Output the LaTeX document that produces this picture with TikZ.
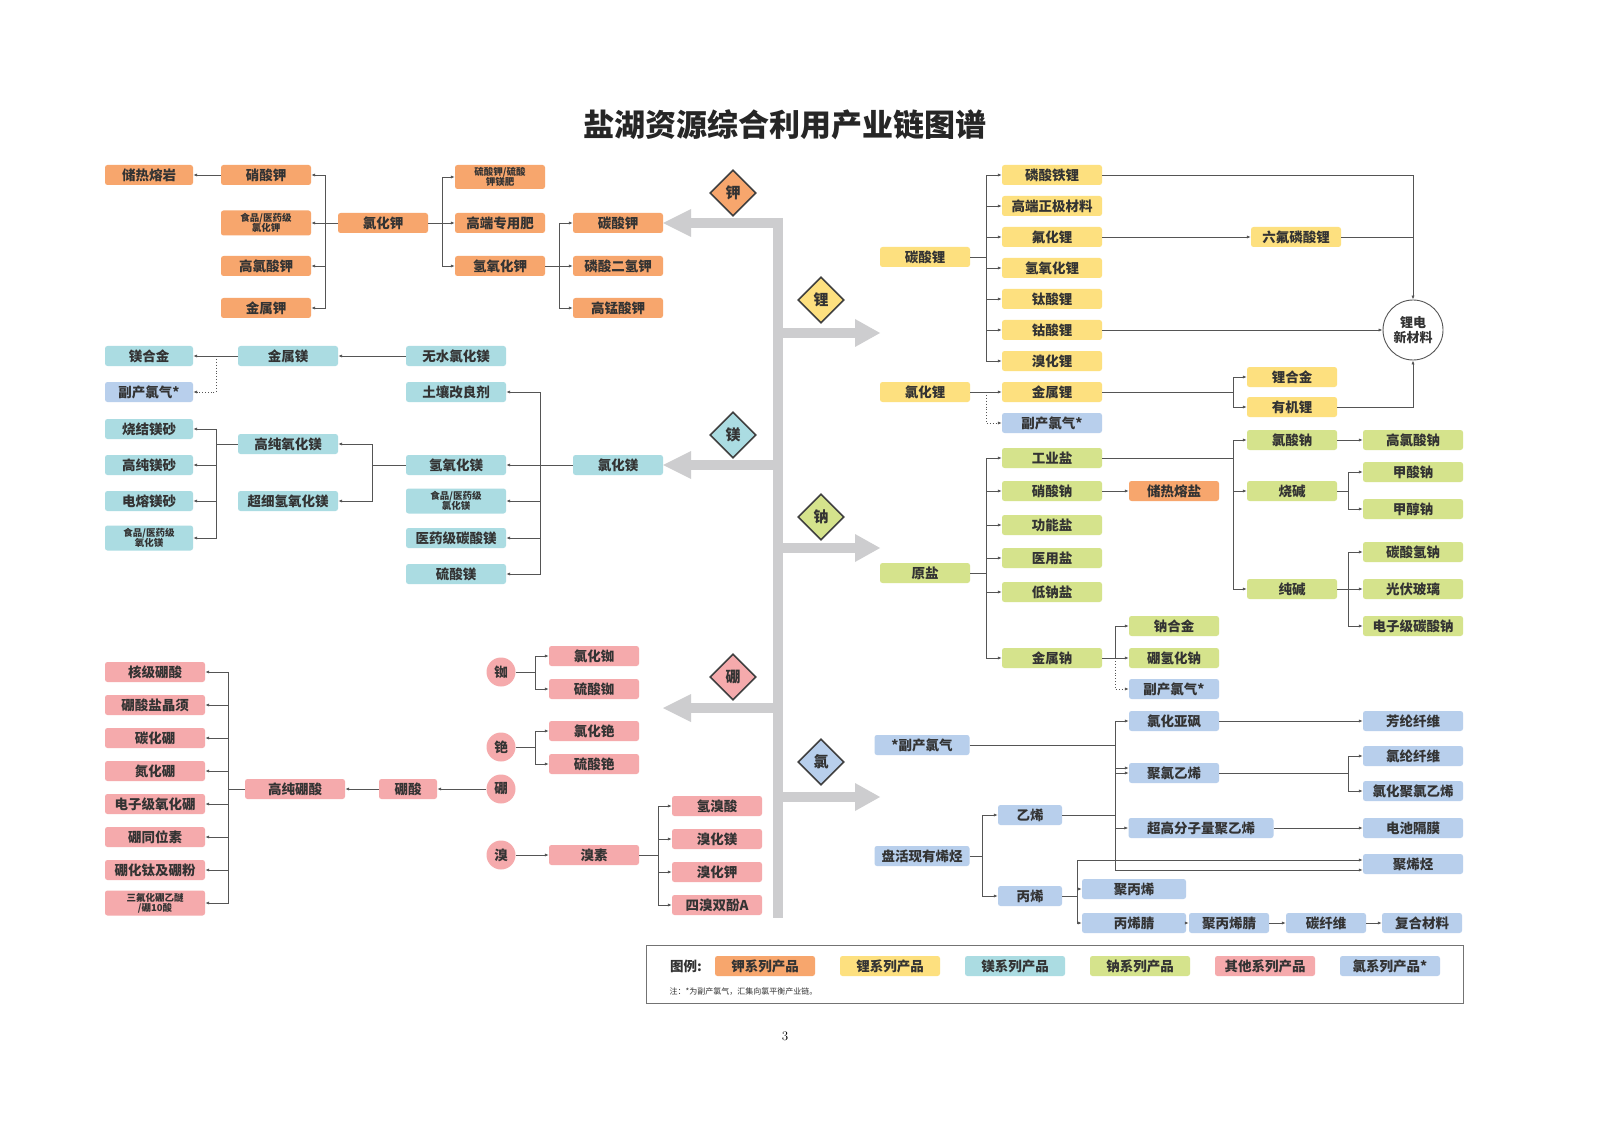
\documentclass[tikz,border=0pt]{standalone}
\usepackage{fontspec}
\newfontfamily\cjk{Noto Sans CJK SC}
\usetikzlibrary{arrows.meta,shapes.geometric}
\definecolor{cor}{HTML}{F7A66D}
\definecolor{cye}{HTML}{FDE07F}
\definecolor{ccy}{HTML}{ABDCE2}
\definecolor{cgr}{HTML}{D5E38C}
\definecolor{cpk}{HTML}{F5AAAC}
\definecolor{cbl}{HTML}{B8CFEC}
\definecolor{txt}{HTML}{333333}
\definecolor{lnc}{HTML}{555555}
\definecolor{spine}{HTML}{CDCDCF}
\tikzset{
 bx/.style={rounded corners=2.5pt, minimum height=20pt, minimum width=90pt, inner sep=0pt, font=\cjk\bfseries\fontsize{13.5}{15}\selectfont, text=txt},
 sm/.style={font=\cjk\bfseries\fontsize{9.5}{10}\selectfont, align=center, minimum height=25pt},
 K/.style={bx, fill=cor}, L/.style={bx, fill=cye}, M/.style={bx, fill=ccy},
 N/.style={bx, fill=cgr}, O/.style={bx, fill=cpk}, C/.style={bx, fill=cbl},
 w/.style={minimum width=#1pt},
 ln/.style={draw=lnc, line width=0.9pt},
 ar/.style={ln, -{Latex[length=4pt,width=3.2pt]}},
 dt/.style={ar, dotted},
 dia/.style={diamond, minimum size=46pt, inner sep=0pt, draw=black!75, line width=1.6pt, font=\cjk\bfseries\fontsize{15}{15}\selectfont, text=txt},
 circ/.style={circle, fill=cpk, minimum size=29pt, inner sep=0pt, font=\cjk\bfseries\fontsize{13.5}{15}\selectfont, text=txt},
}
\begin{document}
\begin{tikzpicture}[x=1pt,y=-1pt]
\fill[white] (0,0) rectangle (1600,1131);
\useasboundingbox (0,0) rectangle (1600,1131);
\node[font=\cjk\bfseries\fontsize{31}{31}\selectfont, text=black!85] (title) at (785,125) {盐湖资源综合利用产业链图谱};
% spine
\draw[spine, line width=10pt] (778,218) -- (778,918);
\draw[spine, line width=10pt] (690,223) -- (783,223);
\foreach \y in {465,708}{\draw[spine, line width=10pt] (690,\y) -- (778,\y);}
\foreach \y in {223,465,708}{\fill[spine] (663,\y) -- (691,\y-14) -- (691,\y+14) -- cycle;}
\foreach \y in {333,548,797}{\draw[spine, line width=10pt] (778,\y) -- (856,\y); \fill[spine] (880,\y) -- (855,\y-14) -- (855,\y+14) -- cycle;}
\node[dia, fill=cor] (dK) at (733,193) {钾};
\node[dia, fill=cye] (dL) at (821,300) {锂};
\node[dia, fill=ccy] (dM) at (733,435) {镁};
\node[dia, fill=cgr] (dN) at (821,517) {钠};
\node[dia, fill=cpk] (dB) at (733,677) {硼};
\node[dia, fill=cbl] (dC) at (821,762) {氯};
% ===== potassium
\node[K,w=88] (k1) at (149,175) {储热熔岩};
\node[K] (k2) at (266,175) {硝酸钾};
\node[K,sm] (k3) at (266,223) {食品/医药级\\氯化钾};
\node[K] (k4) at (266,266) {高氯酸钾};
\node[K] (k5) at (266,308) {金属钾};
\node[K] (kcl) at (383,223) {氯化钾};
\node[K,sm,minimum height=24pt] (k6) at (500,177) {硫酸钾/硫酸\\钾镁肥};
\node[K] (k7) at (500,223) {高端专用肥};
\node[K] (k8) at (500,266) {氢氧化钾};
\node[K] (k9) at (618,223) {碳酸钾};
\node[K] (k10) at (618,266) {磷酸二氢钾};
\node[K] (k11) at (618,308) {高锰酸钾};
\draw[ar] (k2) -- (k1);
\coordinate (kb1) at (325,223); \draw[ln] (kcl.west) -- (kb1);
\foreach \n in {k2,k3,k4,k5}{\draw[ar] (kb1) |- (\n.east);}
\coordinate (kb2) at (442,223); \draw[ln] (kcl.east) -- (kb2);
\foreach \n in {k6,k7,k8}{\draw[ar] (kb2) |- (\n.west);}
\coordinate (kb3) at (559,266); \draw[ln] (k8.east) -- (kb3);
\foreach \n in {k9,k10,k11}{\draw[ar] (kb3) |- (\n.west);}
% ===== magnesium
\node[M,w=88] (m1) at (149,356) {镁合金};
\node[C,w=88] (m2) at (149,392) {副产氯气*};
\node[M,w=100] (m3) at (288,356) {金属镁};
\node[M,w=100] (m4) at (456,356) {无水氯化镁};
\node[M,w=100] (m5) at (456,392) {土壤改良剂};
\node[M,w=88] (m6) at (149,429) {烧结镁砂};
\node[M,w=88] (m7) at (149,465) {高纯镁砂};
\node[M,w=88] (m8) at (149,501) {电熔镁砂};
\node[M,w=88,sm] (m9) at (149,538) {食品/医药级\\氧化镁};
\node[M,w=100] (m10) at (288,444) {高纯氧化镁};
\node[M,w=100] (m11) at (288,501) {超细氢氧化镁};
\node[M,w=100] (m12) at (456,465) {氢氧化镁};
\node[M,w=100,sm] (m13) at (456,501) {食品/医药级\\氯化镁};
\node[M,w=100] (m14) at (456,538) {医药级碳酸镁};
\node[M,w=100] (m15) at (456,574) {硫酸镁};
\node[M] (mcl) at (618,465) {氯化镁};
\draw[ar] (m4) -- (m3);
\draw[ar] (m3) -- (m1);
\coordinate (mb0) at (216,356); \draw[dt] (mb0) |- (m2.east);
\coordinate (mb1) at (540,465); \draw[ln] (mcl.west) -- (mb1);
\foreach \n in {m5,m12,m13,m14,m15}{\draw[ar] (mb1) |- (\n.east);}
\coordinate (mb2) at (372,465); \draw[ln] (m12.west) -- (mb2);
\foreach \n in {m10,m11}{\draw[ar] (mb2) |- (\n.east);}
\coordinate (mb3) at (216,444); \draw[ln] (m10.west) -- (mb3);
\foreach \n in {m6,m7,m8,m9}{\draw[ar] (mb3) |- (\n.east);}
% ===== boron & others
\node[O,w=100] (b1) at (155,672) {核级硼酸};
\node[O,w=100] (b2) at (155,705) {硼酸盐晶须};
\node[O,w=100] (b3) at (155,738) {碳化硼};
\node[O,w=100] (b4) at (155,771) {氮化硼};
\node[O,w=100] (b5) at (155,804) {电子级氧化硼};
\node[O,w=100] (b6) at (155,837) {硼同位素};
\node[O,w=100] (b7) at (155,870) {硼化钛及硼粉};
\node[O,w=100,sm] (b8) at (155,903) {三氟化硼乙醚\\/硼10酸};
\node[O,w=100] (b9) at (295,789) {高纯硼酸};
\node[O,w=58] (b10) at (408,789) {硼酸};
\node[circ] (cRb) at (501,672) {铷};
\node[circ] (cCs) at (501,747) {铯};
\node[circ] (cB) at (501,789) {硼};
\node[circ] (cBr) at (501,855) {溴};
\node[O] (r1) at (594,656) {氯化铷};
\node[O] (r2) at (594,689) {硫酸铷};
\node[O] (r3) at (594,731) {氯化铯};
\node[O] (r4) at (594,764) {硫酸铯};
\node[O] (r5) at (594,855) {溴素};
\node[O] (s1) at (717,806) {氢溴酸};
\node[O] (s2) at (717,839) {溴化镁};
\node[O] (s3) at (717,872) {溴化钾};
\node[O] (s4) at (717,905) {四溴双酚A};
\draw[ar] (cB) -- (b10);
\draw[ar] (b10) -- (b9);
\coordinate (bb1) at (228,789); \draw[ln] (b9.west) -- (bb1);
\foreach \n in {b1,b2,b3,b4,b5,b6,b7,b8}{\draw[ar] (bb1) |- (\n.east);}
\coordinate (bb2) at (535,672); \draw[ln] (cRb.east) -- (bb2);
\foreach \n in {r1,r2}{\draw[ar] (bb2) |- (\n.west);}
\coordinate (bb3) at (535,747); \draw[ln] (cCs.east) -- (bb3);
\foreach \n in {r3,r4}{\draw[ar] (bb3) |- (\n.west);}
\draw[ar] (cBr) -- (r5);
\coordinate (bb4) at (658,855); \draw[ln] (r5.east) -- (bb4);
\foreach \n in {s1,s2,s3,s4}{\draw[ar] (bb4) |- (\n.west);}
% ===== lithium
\node[L] (li0) at (925,257) {碳酸锂};
\node[L,w=100] (l1) at (1052,175) {磷酸铁锂};
\node[L,w=100] (l2) at (1052,206) {高端正极材料};
\node[L,w=100] (l3) at (1052,237) {氟化锂};
\node[L,w=100] (l4) at (1052,268) {氢氧化锂};
\node[L,w=100] (l5) at (1052,299) {钛酸锂};
\node[L,w=100] (l6) at (1052,330) {钴酸锂};
\node[L,w=100] (l7) at (1052,361) {溴化锂};
\node[L,w=100] (l8) at (1052,392) {金属锂};
\node[C,w=100] (l9) at (1052,423) {副产氯气*};
\node[L] (licl) at (925,392) {氯化锂};
\node[L] (l10) at (1296,237) {六氟磷酸锂};
\node[L] (l11) at (1292,377) {锂合金};
\node[L] (l12) at (1292,407) {有机锂};
\node[circle, draw=lnc, line width=0.9pt, fill=white, minimum size=60pt, inner sep=0pt, align=center, font=\cjk\bfseries\fontsize{13}{15}\selectfont, text=txt] (lc) at (1413,330) {锂电\\新材料};
\coordinate (lb1) at (986,257); \draw[ln] (li0.east) -- (lb1);
\foreach \n in {l1,l2,l3,l4,l5,l6,l7}{\draw[ar] (lb1) |- (\n.west);}
\draw[ar] (licl) -- (l8);
\coordinate (lb0) at (986,392); \draw[dt] (lb0) |- (l9.west);
\draw[ar] (l3) -- (l10);
\draw[ar] (l1.east) -| (lc.north);
\draw[ln] (l10.east) -- (1413,237);
\draw[ar] (l6) -- (lc);
\draw[ar] (l12.east) -| (lc.south);
\coordinate (lb2) at (1233,392); \draw[ln] (l8.east) -- (lb2);
\foreach \n in {l11,l12}{\draw[ar] (lb2) |- (\n.west);}
% ===== sodium
\node[N] (n0) at (925,573) {原盐};
\node[N,w=100] (n1) at (1052,458) {工业盐};
\node[N,w=100] (n2) at (1052,491) {硝酸钠};
\node[N,w=100] (n3) at (1052,525) {功能盐};
\node[N,w=100] (n4) at (1052,558) {医用盐};
\node[N,w=100] (n5) at (1052,592) {低钠盐};
\node[N,w=100] (n6) at (1052,658) {金属钠};
\node[K] (n7) at (1174,491) {储热熔盐};
\node[N] (n8) at (1292,440) {氯酸钠};
\node[N] (n9) at (1292,491) {烧碱};
\node[N] (n10) at (1292,589) {纯碱};
\node[N,w=100] (n11) at (1413,440) {高氯酸钠};
\node[N,w=100] (n12) at (1413,472) {甲酸钠};
\node[N,w=100] (n13) at (1413,509) {甲醇钠};
\node[N,w=100] (n14) at (1413,552) {碳酸氢钠};
\node[N,w=100] (n15) at (1413,589) {光伏玻璃};
\node[N,w=100] (n16) at (1413,626) {电子级碳酸钠};
\node[N] (n17) at (1174,626) {钠合金};
\node[N] (n18) at (1174,658) {硼氢化钠};
\node[C] (n19) at (1174,689) {副产氯气*};
\coordinate (nb1) at (986,573); \draw[ln] (n0.east) -- (nb1);
\foreach \n in {n1,n2,n3,n4,n5,n6}{\draw[ar] (nb1) |- (\n.west);}
\draw[ar] (n2) -- (n7);
\coordinate (nb2) at (1233,458); \draw[ln] (n1.east) -- (nb2);
\foreach \n in {n8,n9,n10}{\draw[ar] (nb2) |- (\n.west);}
\draw[ar] (n8) -- (n11);
\coordinate (nb3) at (1348,491); \draw[ln] (n9.east) -- (nb3);
\foreach \n in {n12,n13}{\draw[ar] (nb3) |- (\n.west);}
\coordinate (nb4) at (1348,589); \draw[ln] (n10.east) -- (nb4);
\foreach \n in {n14,n15,n16}{\draw[ar] (nb4) |- (\n.west);}
\coordinate (nb5) at (1115,658); \draw[ln] (n6.east) -- (nb5);
\foreach \n in {n17,n18}{\draw[ar] (nb5) |- (\n.west);}
\draw[dt] (nb5) |- (n19.west);
% ===== chlorine / olefin
\node[C,w=95] (c0) at (922,745) {*副产氯气};
\node[C] (c1) at (1174,721) {氯化亚砜};
\node[C] (c2) at (1174,773) {聚氯乙烯};
\node[C,w=145] (c3) at (1201,828) {超高分子量聚乙烯};
\node[C,w=100] (c4) at (1413,721) {芳纶纤维};
\node[C,w=100] (c5) at (1413,756) {氯纶纤维};
\node[C,w=100] (c6) at (1413,791) {氯化聚氯乙烯};
\node[C,w=100] (c7) at (1413,828) {电池隔膜};
\node[C,w=100] (c8) at (1413,864) {聚烯烃};
\node[C,w=95] (o0) at (922,856) {盘活现有烯烃};
\node[C,w=64] (o1) at (1030,815) {乙烯};
\node[C,w=64] (o2) at (1030,896) {丙烯};
\node[C,w=104] (o3) at (1134,889) {聚丙烯};
\node[C,w=104] (o4) at (1134,923) {丙烯腈};
\node[C,w=80] (o5) at (1229,923) {聚丙烯腈};
\node[C,w=80] (o6) at (1326,923) {碳纤维};
\node[C,w=80] (o7) at (1422,923) {复合材料};
\coordinate (cb1) at (1115,745); \draw[ln] (c0.east) -- (cb1);
\foreach \n in {c1,c2}{\draw[ar] (cb1) |- (\n.west);}
\draw[ar] (c1) -- (c4);
\coordinate (cb2) at (1348,773); \draw[ln] (c2.east) -- (cb2);
\foreach \n in {c5,c6}{\draw[ar] (cb2) |- (\n.west);}
\draw[ar] (c3) -- (c7);
\coordinate (ob1) at (1115,815); \draw[ln] (o1.east) -- (ob1);
\draw[ar] (ob1) |- ([yshift=5pt]c2.west);
\draw[ar] (ob1) |- (c3.west);
\draw[ar] (ob1) |- ([yshift=-6pt]c8.west);
\coordinate (ob0) at (982,856); \draw[ln] (o0.east) -- (ob0);
\foreach \n in {o1,o2}{\draw[ar] (ob0) |- (\n.west);}
\coordinate (ob2) at (1077,896); \draw[ln] (o2.east) -- (ob2);
\draw[ar] (ob2) |- ([yshift=4pt]c8.west);
\foreach \n in {o3,o4}{\draw[ar] (ob2) |- (\n.west);}
\draw[ar] (o4) -- (o5); \draw[ar] (o5) -- (o6); \draw[ar] (o6) -- (o7);
% ===== legend
\node[draw=black!55, line width=0.9pt, minimum width=817pt, minimum height=58pt, inner sep=0pt] (leg) at (1054.5,974) {};
\node[font=\cjk\bfseries\fontsize{13.5}{15}\selectfont, text=txt] (legt) at (686,966) {图例:};
\node[K,w=100] (g1) at (765,966) {钾系列产品};
\node[L,w=100] (g2) at (890,966) {锂系列产品};
\node[M,w=100] (g3) at (1015,966) {镁系列产品};
\node[N,w=100] (g4) at (1140,966) {钠系列产品};
\node[O,w=100] (g5) at (1265,966) {其他系列产品};
\node[C,w=100] (g6) at (1390,966) {氯系列产品*};
\node[anchor=west, font=\cjk\fontsize{8}{9}\selectfont, text=txt] (note) at (666,992) {注：*为副产氯气，汇集向氯平衡产业链。};
\node[font=\fontsize{13}{13}\selectfont] (pg) at (785,1036) {3};
\end{tikzpicture}
\end{document}
